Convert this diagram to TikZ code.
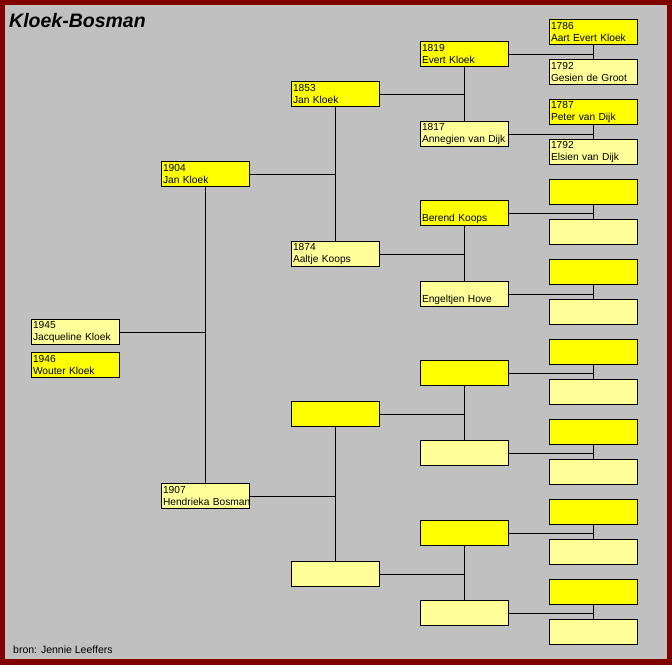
\documentclass[tikz,border=0pt]{standalone}
\usepackage{fontspec}
\setmainfont{Liberation Sans}
\usetikzlibrary{positioning}

\definecolor{rand}{HTML}{800000}
\definecolor{achter}{HTML}{C0C0C0}
\definecolor{geel}{HTML}{FFFF00}
\definecolor{lichtgeel}{HTML}{FFFF99}

\begin{document}
\begin{tikzpicture}[x=1pt, y=-1pt,
  persoon/.style={rectangle, draw, line width=1pt, minimum width=88pt, minimum height=25pt, text width=85pt, inner xsep=1.5pt, inner ysep=0pt, align=left, anchor=north west, font=\fontsize{10.2}{12}\selectfont},
  manbox/.style={persoon, fill=geel},
  vrouwbox/.style={persoon, fill=lichtgeel},
  lijn/.style={line width=1pt}]
% Frame
\fill[rand] (0,0) rectangle (672,665);
\fill[achter] (5,5) rectangle (667,659);
\useasboundingbox (0,0) rectangle (672,665);

\node[anchor=base west, inner sep=0pt, font=\fontsize{19.5}{22}\selectfont\bfseries\itshape] (titel) at (9,27) {Kloek-Bosman};
\node[anchor=base west, inner sep=0pt, font=\fontsize{10.5}{12}\selectfont] (bron) at (13,653) {bron: Jennie Leeffers};

% Children
\node[vrouwbox] (jacqueline) at (31,319) {1945\\Jacqueline Kloek};
\node[manbox] (wouter) at (31,352) {1946\\Wouter Kloek};

% Parents
\node[manbox] (jan1904) at (161,161) {1904\\Jan Kloek};
\node[vrouwbox] (hendrieka) at (161,483) {1907\\\makebox[85pt][l]{Hendrieka Bosman}};

% Grandparents
\node[manbox] (jan1853) at (291,81) {1853\\Jan Kloek};
\node[vrouwbox] (aaltje) at (291,241) {1874\\Aaltje Koops};
\node[manbox] (p6) at (291,401) {};
\node[vrouwbox] (p7) at (291,561) {};

% Great-grandparents
\node[manbox] (evert) at (420,41) {1819\\Evert Kloek};
\node[vrouwbox] (annegien) at (420,121) {1817\\\makebox[85pt][l]{Annegien van Dijk}};
\node[manbox] (berend) at (420,200) {\phantom{0}\\Berend Koops};
\node[vrouwbox] (engeltjen) at (420,281) {\phantom{0}\\Engeltjen Hove};
\node[manbox] (p12) at (420,360) {};
\node[vrouwbox] (p13) at (420,440) {};
\node[manbox] (p14) at (420,520) {};
\node[vrouwbox] (p15) at (420,600) {};

% Great-great-grandparents
\node[manbox] (aart) at (549,19) {1786\\Aart Evert Kloek};
\node[vrouwbox] (gesien) at (549,59) {1792\\Gesien de Groot};
\node[manbox] (peter) at (549,99) {1787\\Peter van Dijk};
\node[vrouwbox] (elsien) at (549,139) {1792\\Elsien van Dijk};
\node[manbox] (p20) at (549,179) {};
\node[vrouwbox] (p21) at (549,219) {};
\node[manbox] (p22) at (549,259) {};
\node[vrouwbox] (p23) at (549,299) {};
\node[manbox] (p24) at (549,339) {};
\node[vrouwbox] (p25) at (549,379) {};
\node[manbox] (p26) at (549,419) {};
\node[vrouwbox] (p27) at (549,459) {};
\node[manbox] (p28) at (549,499) {};
\node[vrouwbox] (p29) at (549,539) {};
\node[manbox] (p30) at (549,579) {};
\node[vrouwbox] (p31) at (549,619) {};

% Lines to parents
\draw[lijn] (jan1904.south) -- (hendrieka.north);
\draw[lijn] (jacqueline.east) -- (jacqueline.east -| jan1904.south);

\draw[lijn] (jan1853.south) -- (aaltje.north);
\draw[lijn] (jan1904.east) -- (jan1904.east -| jan1853.south);
\draw[lijn] (p6.south) -- (p7.north);
\draw[lijn] (hendrieka.east) -- (hendrieka.east -| p6.south);

\draw[lijn] (evert.south) -- (annegien.north);
\draw[lijn] (jan1853.east) -- (jan1853.east -| evert.south);
\draw[lijn] (berend.south) -- (engeltjen.north);
\draw[lijn] (aaltje.east) -- (aaltje.east -| berend.south);
\draw[lijn] (p12.south) -- (p13.north);
\draw[lijn] (p6.east) -- (p6.east -| p12.south);
\draw[lijn] (p14.south) -- (p15.north);
\draw[lijn] (p7.east) -- (p7.east -| p14.south);

\draw[lijn] (aart.south) -- (gesien.north);
\draw[lijn] (evert.east) -- (evert.east -| aart.south);
\draw[lijn] (peter.south) -- (elsien.north);
\draw[lijn] (annegien.east) -- (annegien.east -| peter.south);
\draw[lijn] (p20.south) -- (p21.north);
\draw[lijn] (berend.east) -- (berend.east -| p20.south);
\draw[lijn] (p22.south) -- (p23.north);
\draw[lijn] (engeltjen.east) -- (engeltjen.east -| p22.south);
\draw[lijn] (p24.south) -- (p25.north);
\draw[lijn] (p12.east) -- (p12.east -| p24.south);
\draw[lijn] (p26.south) -- (p27.north);
\draw[lijn] (p13.east) -- (p13.east -| p26.south);
\draw[lijn] (p28.south) -- (p29.north);
\draw[lijn] (p14.east) -- (p14.east -| p28.south);
\draw[lijn] (p30.south) -- (p31.north);
\draw[lijn] (p15.east) -- (p15.east -| p30.south);
\end{tikzpicture}
\end{document}
